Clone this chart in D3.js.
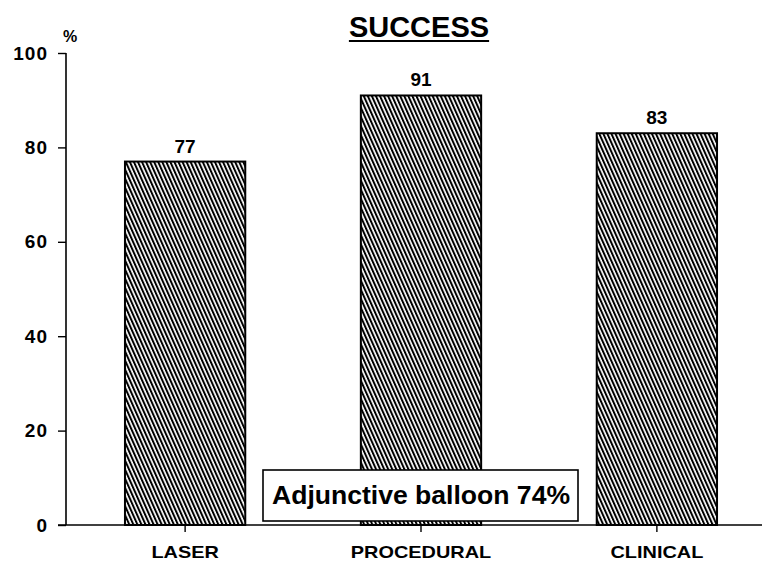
<!DOCTYPE html>
<html>
<head>
<meta charset="utf-8">
<script src="https://cdn.jsdelivr.net/npm/d3@7"></script>
<style>
  html, body { margin: 0; padding: 0; background: #fff; }
  svg { display: block; }
  text { font-family: "Liberation Sans", Arial, Helvetica, sans-serif; font-weight: bold; fill: #000; }
</style>
</head>
<body>
<script>
const categories = ["LASER", "PROCEDURAL", "CLINICAL"];
const values = [77, 91, 83];
const yTicks = [0, 20, 40, 60, 80, 100];
const titleText = "SUCCESS";
const unitLabel = "%";
const annotationText = "Adjunctive balloon 74%";

const W = 762, H = 561;
const svg = d3.select("body").append("svg").attr("width", W).attr("height", H);

const defs = svg.append("defs");
const pat = defs.append("pattern")
  .attr("id", "hatch")
  .attr("patternUnits", "userSpaceOnUse")
  .attr("width", 3.7).attr("height", 10)
  .attr("patternTransform", "rotate(-24)");
pat.append("rect").attr("width", 3.7).attr("height", 10).attr("fill", "#fff");
pat.append("line").attr("x1", 1).attr("x2", 1).attr("y1", 0).attr("y2", 10)
  .attr("stroke", "#000").attr("stroke-width", 2);

const axisX = 66;
const y = d3.scaleLinear().domain([0, 100]).range([525, 53]);
const x = d3.scaleBand().domain(categories).range([axisX, 776])
  .paddingInner(0.49).paddingOuter(0.25);

// bars
svg.append("g").selectAll("rect").data(values).join("rect")
  .attr("x", (d, i) => x(categories[i]))
  .attr("y", d => y(d))
  .attr("width", x.bandwidth())
  .attr("height", d => y(0) - y(d))
  .attr("fill", "url(#hatch)")
  .attr("stroke", "#000").attr("stroke-width", 2);

// value labels
svg.append("g").selectAll("text").data(values).join("text")
  .attr("x", (d, i) => x(categories[i]) + x.bandwidth() / 2)
  .attr("y", d => y(d) - 9)
  .attr("text-anchor", "middle")
  .attr("font-size", 19)
  .text(d => d);

// y axis
const yAxis = svg.append("g").attr("transform", `translate(${axisX},0)`)
  .call(d3.axisLeft(y).tickValues(yTicks).tickSize(8).tickPadding(11));
yAxis.select(".domain").attr("d", `M0,${y(100)}V${y(0)}`).attr("stroke", "#000").attr("stroke-width", 1.6);
yAxis.selectAll(".tick line").attr("stroke", "#000").attr("stroke-width", 1.4);
yAxis.selectAll(".tick text").attr("font-size", 19).attr("font-family", "Liberation Sans, Arial, sans-serif")
  .attr("font-weight", "bold").attr("letter-spacing", 1).attr("dx", 1);

// x axis
const xAxis = svg.append("g").attr("transform", `translate(0,${y(0)})`)
  .call(d3.axisBottom(x).tickSize(7).tickPadding(14));
xAxis.select(".domain").attr("d", `M${axisX - 8},0H${W}`).attr("stroke", "#000").attr("stroke-width", 1.6);
xAxis.selectAll(".tick line").attr("stroke", "#000").attr("stroke-width", 1.4);
xAxis.selectAll(".tick text").attr("font-size", 17).attr("font-family", "Liberation Sans, Arial, sans-serif")
  .attr("font-weight", "bold")
  .each(function () {
    const t = d3.select(this);
    const w = this.getComputedTextLength();
    t.attr("textLength", w * 1.17).attr("lengthAdjust", "spacingAndGlyphs");
  });

// unit label
svg.append("text").attr("x", 70).attr("y", 42).attr("text-anchor", "middle")
  .attr("font-size", 16).text(unitLabel);

// title
const title = svg.append("text").attr("x", 419).attr("y", 37).attr("text-anchor", "middle")
  .attr("font-size", 29).text(titleText);
const tw = title.node().getComputedTextLength();
svg.append("line").attr("x1", 419 - tw / 2).attr("x2", 419 + tw / 2)
  .attr("y1", 41).attr("y2", 41).attr("stroke", "#000").attr("stroke-width", 2.2);

// annotation box
const cx = x("PROCEDURAL") + x.bandwidth() / 2;
svg.append("rect").attr("x", 263).attr("y", 470).attr("width", 315).attr("height", 51)
  .attr("fill", "#fff").attr("stroke", "#000").attr("stroke-width", 1.6);
const ann = svg.append("text").attr("x", cx).attr("y", 504).attr("text-anchor", "middle")
  .attr("font-size", 26).text(annotationText);
ann.attr("textLength", 298).attr("lengthAdjust", "spacingAndGlyphs");
</script>
</body>
</html>
